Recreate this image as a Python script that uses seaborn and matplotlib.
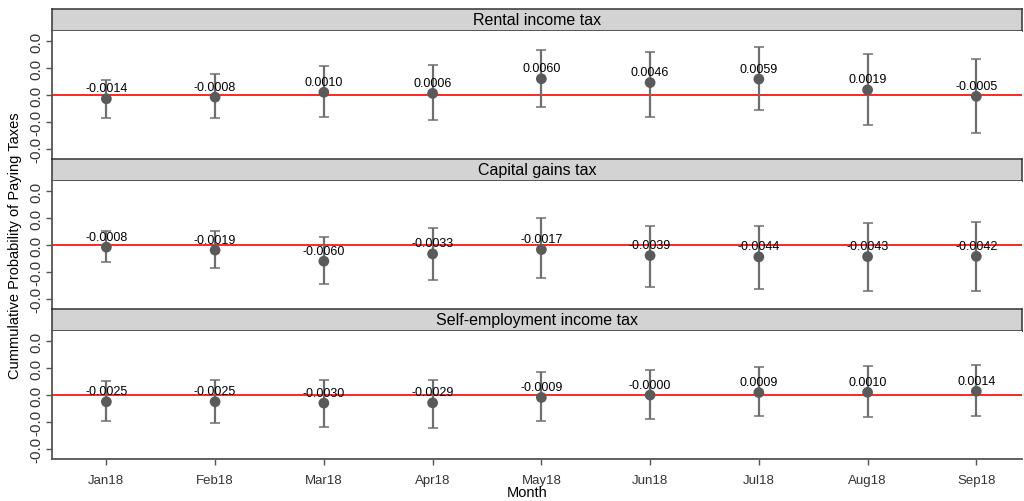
import numpy as np
import pandas as pd
import matplotlib
matplotlib.use("Agg")
import matplotlib.pyplot as plt
import seaborn as sns

# DATA
months = ["Jan18", "Feb18", "Mar18", "Apr18", "May18", "Jun18", "Jul18", "Aug18", "Sep18"]
taxes = ["Rental income tax", "Capital gains tax", "Self-employment income tax"]

rental_est = [-0.0014, -0.0008, 0.0010, 0.0006, 0.0060, 0.0046, 0.0059, 0.0019, -0.0005]
rental_lo = [-0.0084, -0.0087, -0.0081, -0.0091, -0.0044, -0.0081, -0.0057, -0.0110, -0.0139]
rental_hi = [0.0057, 0.0076, 0.0107, 0.0110, 0.0165, 0.0159, 0.0178, 0.0150, 0.0135]

capital_est = [-0.0008, -0.0019, -0.0060, -0.0033, -0.0017, -0.0039, -0.0044, -0.0043, -0.0042]
capital_lo = [-0.0064, -0.0086, -0.0144, -0.0130, -0.0122, -0.0154, -0.0163, -0.0169, -0.0171]
capital_hi = [0.0051, 0.0053, 0.0028, 0.0063, 0.0099, 0.0071, 0.0071, 0.0080, 0.0084]

selfemp_est = [-0.0025, -0.0025, -0.0030, -0.0029, -0.0009, -0.00002, 0.0009, 0.0010, 0.0014]
selfemp_lo = [-0.0097, -0.0104, -0.0119, -0.0122, -0.0097, -0.0089, -0.0079, -0.0081, -0.0079]
selfemp_hi = [0.0051, 0.0057, 0.0057, 0.0057, 0.0084, 0.0094, 0.0103, 0.0109, 0.0112]

y_ticks = [-0.02, -0.01, 0.0, 0.01, 0.02]

frames = []
for tax, est, lo, hi in zip(taxes,
                            [rental_est, capital_est, selfemp_est],
                            [rental_lo, capital_lo, selfemp_lo],
                            [rental_hi, capital_hi, selfemp_hi]):
    frames.append(pd.DataFrame({"tax": tax, "month": months,
                                "est": est, "lo": lo, "hi": hi}))
df = pd.concat(frames, ignore_index=True)

# STYLE
sns.set_style("white")
plt.rcParams["font.family"] = ["Liberation Sans", "DejaVu Sans"]

W, H = 1024, 502
fig = plt.figure(figsize=(W / 100, H / 100), dpi=100)


def box(x0, y0, x1, y1):
    return [x0 / W, 1 - y1 / H, (x1 - x0) / W, (y1 - y0) / H]


left, right = 52, 1022
for i, tax in enumerate(taxes):
    top = 10 + 150 * i
    sub = df[df["tax"] == tax].reset_index(drop=True)

    # strip header
    sax = fig.add_axes(box(left, top, right, top + 22))
    sax.set_facecolor("#d3d3d3")
    sax.set_xticks([])
    sax.set_yticks([])
    for sp in sax.spines.values():
        sp.set_color("#333333")
        sp.set_linewidth(1.1)
    sax.text(0.5, 0.5, tax, ha="center", va="center", fontsize=11.5,
             color="black", transform=sax.transAxes)

    ax = fig.add_axes(box(left, top + 22, right, top + 150))
    xpos = np.arange(len(sub))
    ax.axhline(0, color="red", lw=1.2, zorder=1)
    ax.errorbar(xpos, sub["est"],
                yerr=[sub["est"] - sub["lo"], sub["hi"] - sub["est"]],
                fmt="none", ecolor="#6e6e6e", elinewidth=1.6,
                capsize=3.5, capthick=1.1, zorder=2)
    sns.scatterplot(data=sub, x="month", y="est", ax=ax, color="#5a5a5a",
                    s=60, edgecolor="none", zorder=3, legend=False)
    for x, v in zip(xpos, sub["est"]):
        ax.annotate(f"{v:.4f}", (x, v), xytext=(0, 7.5),
                    textcoords="offset points", ha="center", va="center",
                    fontsize=9, color="black", zorder=4)

    ax.set_xlim(-0.5, 8.42)
    ax.set_ylim(-0.0237, 0.0237)
    ax.set_yticks(y_ticks)
    ax.set_yticklabels([f"{t:.1f}" for t in y_ticks], rotation=90,
                       va="center", fontsize=11, color="#333333")
    ax.set_xticks(xpos)
    ax.set_xlabel("")
    ax.set_ylabel("")
    ax.tick_params(axis="y", left=True, length=4, width=1, color="#555555", pad=2)
    ax.spines["top"].set_visible(False)
    ax.spines["right"].set_visible(False)
    ax.spines["left"].set_color("#555555")
    ax.spines["left"].set_linewidth(1.3)
    if i == len(taxes) - 1:
        ax.spines["bottom"].set_color("#555555")
        ax.spines["bottom"].set_linewidth(1.3)
        ax.set_xticklabels(months, fontsize=9.5, color="#333333")
        ax.tick_params(axis="x", bottom=True, length=4, width=1,
                       color="#555555", pad=7)
    else:
        ax.spines["bottom"].set_visible(False)
        ax.set_xticklabels([])
        ax.tick_params(axis="x", length=0)

fig.text(15 / W, 1 - 246 / H, "Cummulative Probability of Paying Taxes",
         rotation=90, ha="center", va="center", fontsize=10.5, color="black")
fig.text(527 / W, 1 - 493 / H, "Month", ha="center", va="center",
         fontsize=10.5, color="black")

fig.savefig("out.png", dpi=100)
